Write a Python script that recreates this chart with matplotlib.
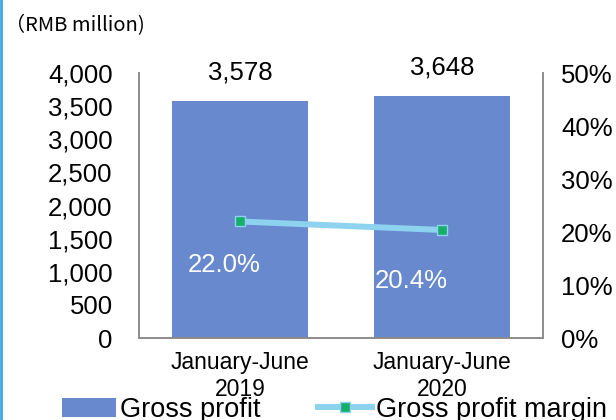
import numpy as np
import matplotlib
matplotlib.use('Agg')
import matplotlib.pyplot as plt
from matplotlib.lines import Line2D
from matplotlib.patches import Patch

# Data
periods = ['January-June\n2019', 'January-June\n2020']
gross_profit = [3578, 3648]          # RMB million
gross_margin = [0.220, 0.204]        # ratio
profit_labels = ['3,578', '3,648']
margin_labels = ['22.0%', '20.4%']

bar_color = '#6889CE'
line_color = '#8DD2EE'
marker_color = '#17AE6C'

plt.rcParams['font.family'] = ['Liberation Sans', 'DejaVu Sans']

fig = plt.figure(figsize=(6.16, 4.2), dpi=100)
ax = fig.add_axes([0.2256, 0.195, 0.656, 0.631])
ax2 = ax.twinx()

x = np.arange(len(periods))
ax.bar(x, gross_profit, width=0.67, color=bar_color, zorder=2)
ax.set_xlim(-0.5, 1.5)
ax.set_ylim(0, 4000)
ax.set_yticks(np.arange(0, 4001, 500))
ax.set_yticklabels([f'{v:,}' for v in range(0, 4001, 500)])
ax.set_xticks(x)
ax.set_xticklabels(periods, fontsize=16.5, linespacing=1.25)
ax.tick_params(axis='y', length=0, pad=19, labelsize=18.5)
ax.tick_params(axis='x', length=0, pad=9)

for xi, v, lab in zip(x, gross_profit, profit_labels):
    ax.annotate(lab, (xi, v), xytext=(0, 12), textcoords='offset points',
                ha='center', va='bottom', fontsize=18.5)

ax2.plot(x, gross_margin, color=line_color, lw=4.3, marker='s', markersize=7,
         markerfacecolor=marker_color, markeredgecolor=line_color,
         markeredgewidth=1, zorder=3)
ax2.set_ylim(0, 0.5)
ax2.set_yticks(np.arange(0, 0.51, 0.1))
ax2.set_yticklabels([f'{int(round(v * 100))}%' for v in np.arange(0, 0.51, 0.1)])
ax2.tick_params(axis='y', length=0, pad=13, labelsize=18.5)

offsets = [(-11.5, -31), (-22, -37)]
for xi, v, lab, off in zip(x, gross_margin, margin_labels, offsets):
    ax2.annotate(lab, (xi, v), xytext=off, textcoords='offset points',
                 ha='center', va='center', fontsize=18.5, color='white')

for a in (ax, ax2):
    a.spines['top'].set_visible(False)
    for s in ('left', 'right', 'bottom'):
        a.spines[s].set_color('#8C8C8C')
        a.spines[s].set_linewidth(1.2)

fig.text(0.008, 0.938, '（RMB million)', fontsize=14.5,
         family=['Noto Sans CJK SC', 'DejaVu Sans'], va='center', ha='left')

handles = [Patch(facecolor=bar_color),
           Line2D([], [], color=line_color, lw=4.3, marker='s', markersize=7,
                  markerfacecolor=marker_color, markeredgecolor=line_color)]
fig.legend(handles, ['Gross profit', 'Gross profit margin'], ncol=2,
           loc='center', bbox_to_anchor=(0.543, 0.024), frameon=False,
           fontsize=19.5, handlelength=2.0, handletextpad=0.15,
           columnspacing=2.1)

fig.add_artist(Line2D([0.002, 0.002], [0, 1], color='#3AA9E0', lw=2,
                      transform=fig.transFigure))

fig.savefig('out.png', dpi=100)
